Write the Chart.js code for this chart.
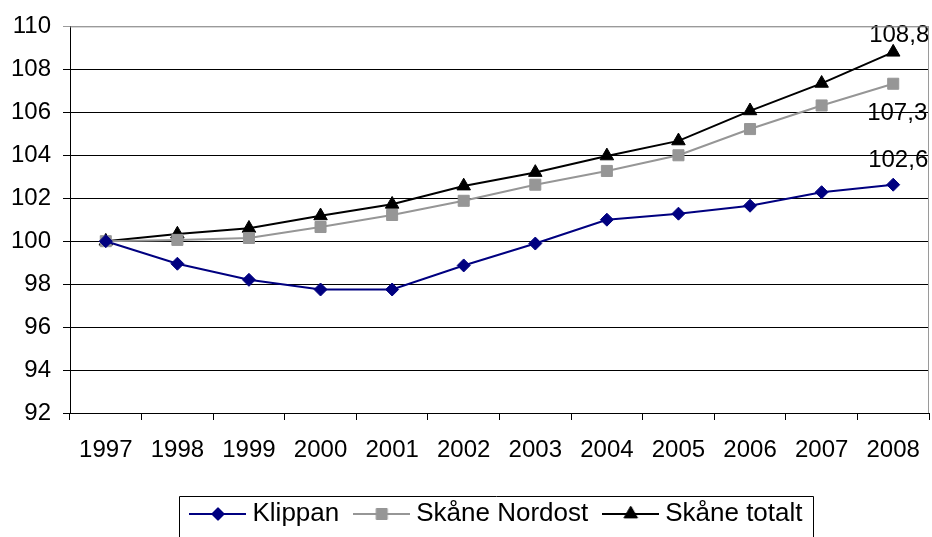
<!DOCTYPE html>
<html>
<head>
<meta charset="utf-8">
<script src="https://cdn.jsdelivr.net/npm/chart.js@4"></script>
<style>
  html, body { margin: 0; padding: 0; background: #fff; }
  #wrap { width: 932px; height: 537px; }
</style>
</head>
<body>
<div id="wrap"><canvas id="c" width="932" height="537"></canvas></div>
<script>
const years = ['1997','1998','1999','2000','2001','2002','2003','2004','2005','2006','2007','2008'];
const klippan = [100, 98.95, 98.2, 97.75, 97.75, 98.87, 99.89, 101.0, 101.28, 101.65, 102.28, 102.63];
const nordost = [100, 100.06, 100.15, 100.66, 101.22, 101.88, 102.63, 103.27, 104.0, 105.22, 106.32, 107.33];
const totalt  = [100, 100.33, 100.6, 101.18, 101.72, 102.57, 103.2, 103.97, 104.67, 106.07, 107.35, 108.8];
const seriesNames = ['Klippan', 'Skåne Nordost', 'Skåne totalt'];

const FONT = '"Liberation Sans", Arial, sans-serif';
const FS = 24;
const LFS = 26;

const styles = [
  { color: '#000080', marker: 'rectRot', radius: 6.5 },
  { color: '#969696', marker: 'rect', radius: 7.8 },
  { color: '#000000', marker: 'triangle', radius: 7.8 }
];

function legendImage(st) {
  const c = document.createElement('canvas');
  c.width = 57; c.height = 16;
  const ctx = c.getContext('2d');
  ctx.strokeStyle = st.color; ctx.lineWidth = 2;
  ctx.beginPath(); ctx.moveTo(0, 8); ctx.lineTo(57, 8); ctx.stroke();
  ctx.fillStyle = st.color; ctx.strokeStyle = st.color; ctx.lineWidth = 1;
  Chart.helpers.drawPoint(ctx, { pointStyle: st.marker, radius: st.radius, borderWidth: 1 }, 28.5, 8);
  ctx.fill();
  return c;
}

const datasets = [klippan, nordost, totalt].map((d, i) => ({
  label: seriesNames[i],
  data: d,
  borderColor: styles[i].color,
  backgroundColor: styles[i].color,
  borderWidth: 2,
  pointStyle: styles[i].marker,
  pointRadius: styles[i].radius,
  pointHoverRadius: styles[i].radius,
  pointBorderWidth: 1,
  tension: 0,
  fill: false
}));

const endLabelOffsets = [{dx: 5, dy: -24}, {dx: 4, dy: 30}, {dx: 6, dy: -17}];

const endLabels = {
  id: 'endLabels',
  afterDatasetsDraw(chart) {
    const ctx = chart.ctx;
    ctx.save();
    ctx.font = FS + 'px ' + FONT;
    ctx.fillStyle = '#000';
    ctx.textAlign = 'center';
    ctx.textBaseline = 'middle';
    chart.data.datasets.forEach((ds, i) => {
      const meta = chart.getDatasetMeta(i);
      const last = meta.data[meta.data.length - 1];
      const v = ds.data[ds.data.length - 1];
      const txt = v.toFixed(1).replace('.', ',');
      ctx.fillText(txt, last.x + endLabelOffsets[i].dx, last.y + endLabelOffsets[i].dy);
    });
    ctx.restore();
  }
};

const frame = {
  id: 'frame',
  afterDraw(chart) {
    const ctx = chart.ctx;
    const a = chart.chartArea;
    ctx.save();
    ctx.strokeStyle = '#9a9a9a';
    ctx.lineWidth = 1;
    ctx.beginPath();
    ctx.moveTo(a.left, a.top + 0.5); ctx.lineTo(a.right - 0.5, a.top + 0.5);
    ctx.lineTo(a.right - 0.5, a.bottom);
    ctx.stroke();
    const lg = chart.legend;
    const hb = lg.legendHitBoxes;
    if (hb && hb.length) {
      const l = hb[0].left - 17;
      const r = hb[hb.length - 1].left + hb[hb.length - 1].width + 11;
      const t = hb[0].top - 5;
      ctx.strokeStyle = '#000';
      ctx.beginPath();
      ctx.rect(Math.round(l) + 0.5, Math.round(t) + 0.5, Math.round(r - l), 80);
      ctx.stroke();
    }
    ctx.restore();
  }
};

new Chart(document.getElementById('c'), {
  type: 'line',
  data: { labels: years, datasets },
  options: {
    responsive: false,
    animation: false,
    layout: { autoPadding: false, padding: { top: 24, right: 3, left: 0, bottom: 0 } },
    plugins: {
      tooltip: { enabled: false },
      legend: {
        position: 'bottom',
        fullSize: false,
        labels: {
          font: { family: FONT, size: LFS },
          color: '#000',
          usePointStyle: true,
          pointStyleWidth: 43,
          padding: 21,
          generateLabels(chart) {
            const items = Chart.defaults.plugins.legend.labels.generateLabels(chart);
            items.forEach((it, i) => { it.pointStyle = legendImage(styles[i]); });
            return items;
          }
        }
      }
    },
    scales: {
      x: {
        offset: true,
        grid: { display: true, drawOnChartArea: false, drawTicks: true, tickLength: 7, offset: true, color: '#000' },
        border: { color: '#000', width: 1 },
        ticks: { font: { family: FONT, size: FS, lineHeight: 2.5 }, color: '#000', padding: 0, maxRotation: 0, autoSkip: false },
        afterFit(s) {
          s.height = 67;
          s.paddingRight = 0;
          s.paddingLeft = 0;
        }
      },
      y: {
        min: 92, max: 110,
        grid: {
          color: (c) => (c.tick && c.tick.value === 110) ? '#9a9a9a' : '#000',
          tickLength: 7, drawTicks: true
        },
        border: { color: '#000', width: 1 },
        ticks: { stepSize: 2, font: { family: FONT, size: FS }, color: '#000', padding: 12 },
        afterFit(s) { s.width = 70; }
      }
    }
  },
  plugins: [endLabels, frame]
});
</script>
</body>
</html>
